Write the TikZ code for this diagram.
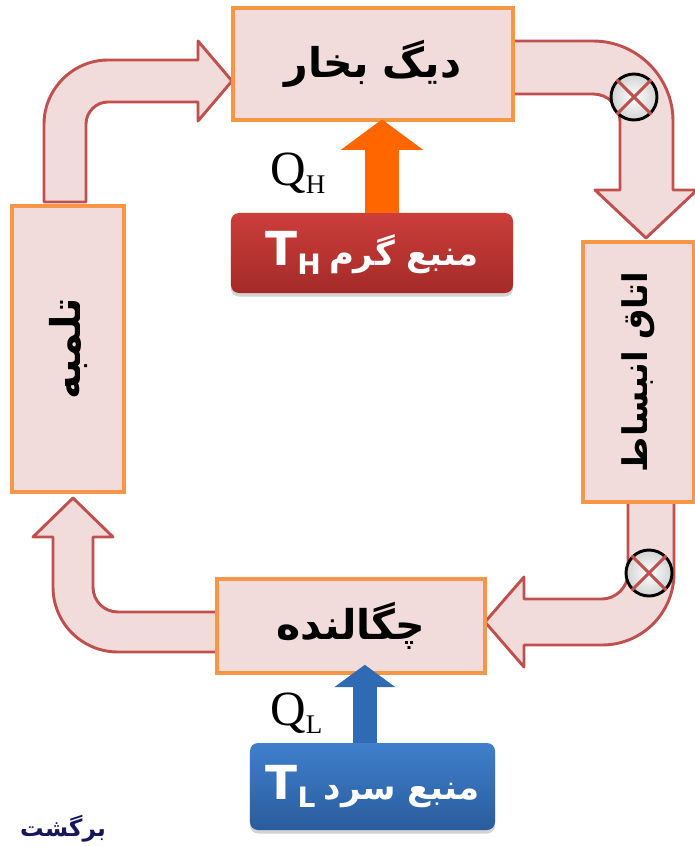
\documentclass[tikz,border=0pt]{standalone}
\usepackage{fontspec}
\setmainfont{Liberation Serif}
\newfontfamily\arabicfont[Script=Arabic]{DejaVu Sans}
\newfontfamily\latinsans{DejaVu Sans}
\TeXXeTstate=1
\usetikzlibrary{arrows.meta,shadows}
\definecolor{pipefill}{HTML}{F2DCDB}
\definecolor{pipeedge}{HTML}{C0504D}
\definecolor{boxedge}{HTML}{F79646}
\definecolor{heatorange}{HTML}{FF6600}
\definecolor{hottop}{HTML}{CC3E3A}
\definecolor{hotbot}{HTML}{A42A28}
\definecolor{coldtop}{HTML}{3F7FCC}
\definecolor{coldbot}{HTML}{2A5C9C}
\definecolor{coldarrow}{HTML}{2F6BB3}
\definecolor{navy}{HTML}{16165C}
\newcommand{\fatext}[1]{{\arabicfont\beginR #1\endR}}
\newcommand{\bigsans}{\latinsans\bfseries\fontsize{40}{40}\selectfont}
\begin{document}
\begin{tikzpicture}[x=0.03cm,y=-0.03cm,
    box/.style={draw=boxedge,line width=3pt,fill=pipefill,inner sep=0pt,
      font=\bfseries\fontsize{35}{35}\selectfont},
    pipe/.style={draw=pipeedge,line width=2.5pt,fill=pipefill,line join=round},
    src/.style={rounded corners=0.24cm,inner sep=0pt,text=white,
      drop shadow={opacity=0.35,shadow xshift=0pt,shadow yshift=-3pt}},
    valve/.style={circle,draw=black,line width=2.5pt,inner color=white,
      outer color=gray!35,minimum size=1.38cm,inner sep=0pt},
    cross/.style={pipeedge,line width=2.5pt},
    qlab/.style={inner sep=0pt,anchor=base west,font=\fontsize{42}{42}\selectfont}]
  \useasboundingbox (0,0) rectangle (694,846);
  % ---- the four pipes of the cycle ----
  \draw[pipe] (44,202) -- (44,124) .. controls (44,89) and (73,60) .. (108,60)
    -- (198,60) -- (198,41) -- (232,81) -- (198,121) -- (198,102) -- (108,102)
    .. controls (96,102) and (86,112) .. (86,124) -- (86,202) -- cycle;
  \draw[pipe] (505,41) -- (593,41) .. controls (637,41) and (673,77) .. (673,121)
    -- (673,190) -- (697,190) -- (646,238) -- (595,190) -- (620,190) -- (620,121)
    .. controls (620,106) and (608,94) .. (593,94) -- (505,94) -- cycle;
  \draw[pipe] (628,495) -- (628,573) .. controls (628,587) and (616,599) .. (602,599)
    -- (524,599) -- (524,577) -- (485,622) -- (524,667) -- (524,645) -- (602,645)
    .. controls (642,645) and (674,613) .. (674,573) -- (674,495) -- cycle;
  \draw[pipe] (225,612) -- (118,612) .. controls (104,612) and (93,601) .. (93,587)
    -- (93,537) -- (113,537) -- (73,498) -- (33,537) -- (53,537) -- (53,587)
    .. controls (53,623) and (82,652) .. (118,652) -- (225,652) -- cycle;
  % ---- valves ----
  \foreach \v/\x/\y in {1/634/97,2/649/573}{
    \node[valve] (valve\v) at (\x,\y) {};
    \draw[cross] (valve\v.45) -- (valve\v.225) (valve\v.135) -- (valve\v.315);
  }
  % ---- components ----
  \node[box,minimum width=8.4cm,minimum height=3.36cm] (boiler) at (373,64) {\fatext{دیگ بخار}};
  \node[box,rotate=90,minimum width=8.58cm,minimum height=3.36cm] (pump) at (68,349) {\fatext{تلمبه}};
  \node[box,rotate=90,minimum width=7.8cm,minimum height=3.33cm,font=\bfseries\fontsize{29}{29}\selectfont]
    (expander) at (638.5,372) {\fatext{اتاق انبساط}};
  \node[box,minimum width=8.04cm,minimum height=2.82cm] (condenser) at (351,626) {\fatext{چگالنده}};
  % ---- hot and cold reservoirs ----
  \node[src,top color=hottop,bottom color=hotbot,minimum width=8.46cm,minimum height=2.4cm]
    (hotsrc) at (372,253) {{\bigsans T\raisebox{-7pt}{\fontsize{24}{24}\selectfont H}}\hspace{0.7em}{\bfseries\fontsize{29}{29}\selectfont\fatext{منبع گرم}}};
  \node[src,top color=coldtop,bottom color=coldbot,minimum width=7.35cm,minimum height=2.61cm]
    (coldsrc) at (372.5,786.5) {{\bigsans T\raisebox{-7pt}{\fontsize{24}{24}\selectfont L}}\hspace{0.7em}{\bfseries\fontsize{29}{29}\selectfont\fatext{منبع سرد}}};
  \draw[heatorange,line width=29pt,-{Triangle[width=69pt,length=26pt]},shorten >=-2pt]
    ([xshift=0.3cm]hotsrc.north) coordinate (hs) -- (hs |- boiler.south);
  \draw[coldarrow,line width=21pt,-{Triangle[width=51pt,length=19pt]},shorten >=-8.5pt]
    ([xshift=-0.23cm]coldsrc.north) coordinate (cs) -- (cs |- condenser.south);
  \node[qlab] (qh) at (270,185) {Q\raisebox{-7pt}{\fontsize{23}{23}\selectfont H}};
  \node[qlab] (ql) at (270,725) {Q\raisebox{-7pt}{\fontsize{23}{23}\selectfont L}};
  \node[inner sep=0pt,anchor=base west,text=navy,font=\bfseries\fontsize{20}{20}\selectfont]
    (back) at (20,836) {\fatext{برگشت}};
\end{tikzpicture}
\end{document}
